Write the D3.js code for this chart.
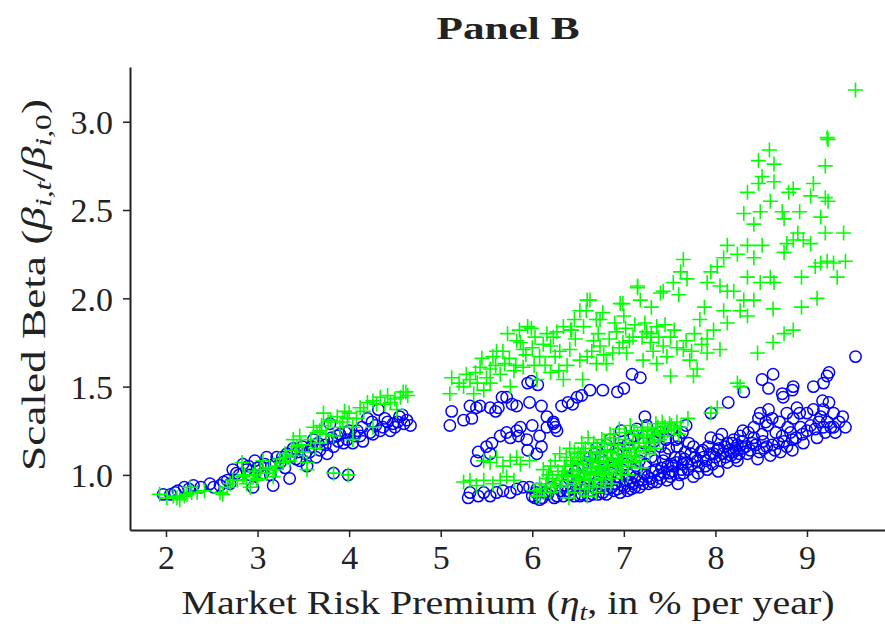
<!DOCTYPE html>
<html>
<head>
<meta charset="utf-8">
<script src="https://cdn.jsdelivr.net/npm/d3@7"></script>
<style>
  html, body { margin: 0; padding: 0; background: #fff; }
  svg { display: block; }
</style>
</head>
<body>
<svg id="chart" width="885" height="624"></svg>
<script>
// Axis tick values
const xTicks = [2, 3, 4, 5, 6, 7, 8, 9];
const yTicks = [1.0, 1.5, 2.0, 2.5, 3.0];

// Blue circles: [market risk premium, scaled beta]
const blueLeft = [[1.97,.89],[2.05,.89],[2.13,.91],[2.2,.93],[2.3,.94],[2.38,.93],[2.48,.95],[2.59,.94],[2.67,.97],[2.7,.95],[2.73,1.03],[2.8,1.0],[2.84,1.06],[2.88,1.03],[2.92,1.0],[2.95,.93],[2.97,1.08],[3.03,1.05],[3.06,1.01],[3.1,1.1],[3.14,1.0],[3.17,.94],[3.21,1.1],[3.25,1.07],[3.3,1.04],[3.32,1.12],[3.35,.98],[3.39,1.15],[3.42,1.09],[3.46,1.08],[3.49,1.16],[3.54,1.05],[3.57,1.13],[3.61,1.2],[3.64,1.1],[3.68,1.14],[3.72,1.2],[3.76,1.12],[3.79,1.29],[3.83,1.16],[3.83,1.01],[3.87,1.22],[3.9,1.23],[3.94,1.18],[3.98,1.2],[3.99,1.0],[4.0,1.25],[4.04,1.18],[4.09,1.25],[4.12,1.22],[4.15,1.19],[4.2,1.32],[4.23,1.24],[4.26,1.23],[4.29,1.28],[4.32,1.37],[4.34,1.25],[4.37,1.27],[4.42,1.3],[4.45,1.25],[4.48,1.29],[4.5,1.27],[4.55,1.33],[4.58,1.34],[4.63,1.31],[4.67,1.28],
  [2.1,.9],[2.25,.92],[2.52,.93],[2.63,.96],[2.77,1.01],[2.9,1.05],[3.0,1.04],[3.08,1.06],[3.18,1.06],[3.27,1.1],[3.37,1.11],[3.44,1.13],[3.52,1.12],[3.59,1.16],[3.66,1.18],[3.74,1.17],[3.81,1.21],[3.88,1.19],[3.96,1.24],[4.06,1.22],[4.14,1.27],[4.25,1.3],[4.39,1.32],[4.53,1.3],[4.6,1.29]];
const blueUpper = [[5.1,1.28],[5.12,1.36],[5.25,1.31],[5.32,1.39],[5.34,1.32],[5.39,1.38],[5.43,1.39],[5.54,1.38],[5.6,1.36],[5.63,1.38],[5.67,1.44],[5.72,1.44],[5.78,1.4],[5.83,1.39],[5.95,1.52],[5.99,1.53],[6.06,1.51],[5.97,1.41],[6.1,1.39],[6.16,1.33],[6.23,1.3],[6.25,1.27],[6.32,1.39],[6.39,1.41],[6.44,1.4],[6.49,1.44],[6.54,1.45],[6.63,1.48],[6.77,1.48],[6.93,1.47],[7.0,1.49],[7.09,1.57],[7.18,1.55],[7.23,1.33]];
const blueMid = [[5.39,1.08],[5.41,1.13],[5.5,1.16],[5.54,1.12],[5.56,1.18],[5.65,1.22],[5.72,1.24],[5.76,1.21],[5.83,1.25],[5.85,1.22],[5.87,1.27],[5.94,1.2],[5.95,1.14],[6.0,1.28],[6.05,1.12],[6.08,1.22],[6.1,1.16],[6.16,1.27],[6.23,1.29],[6.27,1.25]];
const blueFloor = [[5.3,.87],[5.32,.9],[5.41,.88],[5.47,.9],[5.54,.88],[5.61,.9],[5.68,.91],[5.76,.9],[5.83,.92],[5.9,.93],[5.97,.93],[6.05,.92],[6.08,.86]];
const blueDense = [[6.0,.88],[6.04,.9],[6.11,.87],[6.17,.89],[6.21,.93],[6.27,.88],[6.31,.91],[6.36,.94],[6.41,.89],[6.44,.92],[6.49,.96],[6.52,.88],[6.56,.91],[6.59,.94],[6.62,.98],[6.66,.89],[6.69,.92],[6.71,.96],[6.74,1.0],[6.77,.9],[6.79,.94],[6.82,.92],[6.84,.97],[6.86,1.01],[6.89,.91],[6.91,.95],[6.94,.99],[6.96,.9],[6.98,1.03],[7.01,.93],[7.03,.97],[7.06,1.0],[7.08,.92],[7.1,.95],[7.13,.99],[7.15,1.04],[7.17,.93],[7.2,.97],[7.22,1.01],[7.24,1.06],[7.27,.95],[7.29,.98],[7.31,1.02],[7.34,1.08],[7.36,.96],[7.38,1.0],[7.41,1.04],[7.43,1.08],[7.45,1.12],[7.47,.97],[7.49,1.01],[7.51,.99],[7.52,1.06],[7.54,1.05],[7.56,1.1],[7.58,1.16],[7.59,.95],[7.62,1.1],[7.63,1.03],[7.65,1.01],[7.67,1.13],[7.69,1.07],[7.71,1.18],[7.73,1.12],[7.76,1.16],[7.76,.99],[7.8,1.08],[7.81,1.01],[7.84,1.13],[7.87,1.1],[7.89,1.05],[7.91,1.03],[7.92,1.16],[7.95,1.21],[7.98,1.12],[8.02,1.14],[8.03,1.02],[8.03,1.2],[8.05,1.08],[8.07,1.23],[8.1,1.16],[8.13,1.07],[8.13,1.18],[8.17,1.11],[8.2,1.13],[8.22,1.1],[8.24,1.08],[8.24,1.17],[8.27,1.22],[8.3,1.15],[8.35,1.12],[8.36,1.24],[8.4,1.18],[8.42,1.21],[8.42,1.27],[8.46,1.09],[8.47,1.32],[8.49,1.35],[8.51,1.23],[8.53,1.15],[8.57,1.28],[8.58,1.37],[8.6,1.11],[8.62,1.17],[8.62,1.32],[8.66,1.24],[8.71,1.13],[8.75,1.19],[8.79,1.27],[8.84,1.14],[8.84,1.2],[8.85,1.32],[8.89,1.38],[8.92,1.35],[8.96,1.18],[8.95,1.23],[9.0,1.25],[9.0,1.35],[9.07,1.37],[9.09,1.26],[9.11,1.21],[9.15,1.33],[9.17,1.42],[9.18,1.27],[9.18,1.37],[9.22,1.3],[9.24,1.41],[9.26,1.27],[9.29,1.27],[9.29,1.35],[9.31,1.24],[9.39,1.33],[9.42,1.27],
  [6.55,1.05],[6.63,1.1],[6.7,1.15],[6.78,1.07],[6.85,1.2],[6.92,1.12],[6.97,1.25],[7.04,1.17],[7.11,1.22],[7.19,1.13],[7.25,1.28],[7.33,1.19],[7.39,1.24],[7.46,1.2],[7.53,1.26],[7.6,1.21],[7.68,1.28],[7.4,1.16],[7.3,1.1],[7.17,1.08],[7.02,1.06],[6.88,1.04],[6.75,1.09],
  [6.03,.87],[6.14,.9],[6.24,.87],[6.34,.88],[6.39,.91],[6.46,.88],[6.54,.89],[6.61,.88],[6.64,.91],[6.72,.89],[6.76,.93],[6.81,.89],[6.87,.93],[6.93,.92],[6.99,.94],[7.04,.91],[7.07,.96],[7.12,.93],[7.16,.97],[7.21,.95],[7.26,.99],[7.31,.96],[7.35,1.03],[7.4,.98],[7.44,1.01],[7.48,1.05],[7.53,1.02],[7.57,1.07],[7.61,1.0],[7.64,1.06],[7.66,1.09],[7.7,1.03],[7.74,1.06],[7.78,1.1],[7.82,1.05],[7.86,1.14],[7.9,1.08],[7.94,1.12],[7.97,1.06],[8.0,1.1],[8.04,1.15],[8.08,1.12],[8.11,1.1],[8.15,1.14],[8.18,1.18],[8.22,1.15],[8.26,1.12],[8.29,1.19],[8.33,1.16],[8.38,1.14],[8.44,1.17],[8.48,1.13],[8.52,1.19],[8.56,1.16],[8.65,1.14],[8.69,1.18],[8.73,1.22],[8.78,1.16],[8.82,1.24],[8.88,1.21],[8.93,1.27],[9.04,1.28],[9.13,1.3],[9.2,1.24],[9.35,1.3],[8.7,1.3],[8.78,1.35],[8.55,1.3],[8.3,1.25],[8.2,1.2],
  [6.68,1.12],[6.81,1.17],[6.95,1.15],[7.07,1.2],[7.14,1.26],[7.22,1.18],[7.36,1.22],[7.49,1.15],[7.57,1.2],[7.64,1.24],[6.6,1.07],[6.47,1.02],[6.4,.98]];
const blueRight = [[7.95,1.35],[8.14,1.41],[8.31,1.47],[8.51,1.54],[8.58,1.49],[8.63,1.57],[8.73,1.46],[8.74,1.44],[8.84,1.48],[8.85,1.5],[9.07,1.5],[9.18,1.52],[9.22,1.56],[9.24,1.58],[9.53,1.67]];

// Green pluses: [market risk premium, scaled beta]
const greenLeft = [[1.93,.89],[2.01,.87],[2.08,.88],[2.15,.86],[2.23,.89],[2.28,.9],[2.34,.9],[2.26,.93],[2.59,.9],[2.62,.89],[2.67,.93],[2.73,.97],[2.84,.99],[2.83,1.07],[2.88,.95],[2.92,.93],[2.95,1.0],[2.99,.97],[3.03,1.03],[3.06,1.08],[3.1,1.01],[3.17,.99],[3.21,1.05],[3.28,1.07],[3.32,1.1],[3.35,1.08],[3.39,1.2],[3.43,1.16],[3.46,1.22],[3.5,1.13],[3.54,1.03],[3.54,1.07],[3.61,1.27],[3.65,1.24],[3.68,1.25],[3.68,1.18],[3.72,1.35],[3.77,1.3],[3.83,1.22],[3.83,1.01],[3.87,1.33],[3.9,1.27],[3.98,1.32],[3.99,1.0],[4.0,1.35],[4.04,1.27],[4.04,1.2],[4.12,1.38],[4.2,1.41],[4.26,1.42],[4.26,1.27],[4.34,1.44],[4.39,1.4],[4.45,1.41],[4.52,1.37],[4.59,1.47],[4.64,1.45],
  [2.12,.87],[2.2,.88],[2.42,.91],[2.7,.95],[2.78,.97],[2.86,1.0],[2.97,1.02],[3.0,.98],[3.13,1.04],[3.19,1.03],[3.24,1.09],[3.3,1.12],[3.37,1.14],[3.41,1.11],[3.48,1.17],[3.58,1.2],[3.63,1.15],[3.7,1.28],[3.75,1.23],[3.8,1.31],[3.93,1.3],[3.95,1.36],[4.08,1.32],[4.16,1.36],[4.3,1.4],[4.42,1.45],[4.5,1.43],[4.56,1.44],[4.62,1.47]];
const greenBand = [[5.1,1.46],[5.12,1.55],[5.25,1.5],[5.32,1.54],[5.36,1.46],[5.38,1.58],[5.43,1.61],[5.47,1.48],[5.54,1.52],[5.54,1.6],[5.57,1.67],[5.61,1.7],[5.65,1.57],[5.7,1.63],[5.73,1.8],[5.76,1.5],[5.8,1.59],[5.83,1.76],[5.87,1.75],[5.9,1.61],[5.9,1.71],[5.95,1.84],[5.99,1.83],[6.03,1.78],[6.05,1.54],[6.08,1.67],[6.16,1.8],[6.2,1.73],[6.2,1.58],[6.23,1.78],[6.25,1.67],[6.29,1.59],[6.34,1.84],[6.34,1.54],[6.41,1.71],[6.42,1.82],[6.43,1.82],[6.46,1.88],[6.52,1.65],[6.52,1.93],[6.55,1.54],[6.59,1.93],[6.6,1.99],[6.6,1.67],[6.63,1.99],[6.67,1.76],[6.7,1.88],[6.7,1.63],[6.74,1.73],[6.74,1.88],[6.77,1.92],[6.81,1.63],[6.88,1.69],[6.92,1.81],[6.96,1.97],[6.99,1.75],[6.99,1.97],[7.03,1.69],
  [5.2,1.52],[5.28,1.57],[5.4,1.52],[5.45,1.66],[5.5,1.55],[5.6,1.62],[5.68,1.7],[5.75,1.66],[5.82,1.62],[5.86,1.82],[5.93,1.68],[6.0,1.72],[6.02,1.62],[6.12,1.74],[6.14,1.62],[6.27,1.81],[6.3,1.7],[6.38,1.62],[6.47,1.77],[6.56,1.84],[6.65,1.7],[6.72,1.8],[6.78,1.68],[6.84,1.77],[6.9,1.86],[6.95,1.72],[7.02,1.83],[7.06,1.76],[7.12,1.85],[7.2,1.78],[7.23,1.86],[7.3,1.8],[7.32,1.7],[7.38,1.78],[7.45,1.85],[7.55,1.82],[7.58,1.72],[7.68,1.76],[7.74,1.7],[7.85,1.74],[7.88,1.95],[7.6,2.02],[7.3,1.95],[7.0,1.9]];
const greenRight = [[7.1,1.78],[7.15,2.07],[7.15,2.06],[7.18,1.99],[7.21,1.65],[7.25,1.81],[7.29,1.75],[7.36,1.84],[7.36,1.63],[7.4,2.03],[7.43,2.04],[7.43,1.73],[7.47,1.67],[7.51,1.78],[7.51,1.56],[7.54,2.09],[7.62,2.15],[7.65,2.22],[7.65,1.71],[7.69,2.11],[7.72,1.65],[7.76,1.56],[7.77,1.8],[7.8,1.6],[7.83,1.88],[7.91,2.09],[7.91,1.77],[7.91,1.69],[7.95,2.15],[7.98,1.82],[8.02,2.18],[8.05,2.07],[8.05,1.71],[8.09,2.23],[8.09,1.93],[8.13,2.3],[8.13,2.04],[8.13,1.86],[8.2,2.04],[8.24,2.25],[8.24,1.52],[8.27,1.93],[8.31,2.48],[8.31,1.99],[8.35,2.6],[8.35,2.3],[8.35,2.12],[8.35,1.9],[8.42,2.42],[8.42,2.23],[8.42,1.99],[8.46,1.69],[8.47,2.78],[8.47,2.65],[8.49,2.49],[8.49,2.09],[8.51,2.69],[8.51,2.3],[8.59,2.84],[8.6,2.55],[8.6,2.12],[8.63,1.94],[8.63,1.75],[8.64,2.76],[8.64,2.66],[8.64,2.09],[8.73,2.49],[8.75,2.45],[8.75,2.26],[8.75,1.8],[8.78,2.31],[8.8,2.6],[8.85,2.62],[8.85,2.33],[8.85,1.82],[8.9,2.37],[8.92,2.49],[8.94,2.12],[8.94,1.95],[8.96,2.33],[9.04,2.58],[9.04,2.31],[9.07,2.65],[9.09,2.18],[9.11,2.0],[9.15,2.46],[9.15,2.2],[9.2,2.75],[9.2,2.57],[9.2,2.37],[9.22,2.91],[9.23,2.9],[9.22,2.21],[9.23,2.55],[9.29,2.2],[9.33,2.12],[9.4,2.37],[9.42,2.21],[9.53,3.18],
  [7.95,1.35],[8.02,1.38],[7.7,1.32],[8.27,1.5],[7.5,1.29],[7.62,1.27]];
const greenLow = [[5.25,.96],[5.32,.97],[5.39,.94],[5.47,.97],[5.57,.95],[5.65,.97],[5.72,.99],[5.8,.97],[5.47,1.08],[5.54,1.07],[5.61,1.1],[5.68,1.05],[5.76,1.08],[5.83,1.1],[5.87,1.06],[5.97,1.08],[6.08,.88]];
const greenDense = [[6.05,.88],[6.1,.92],[6.15,.95],[6.2,.9],[6.22,.98],[6.28,1.02],[6.3,.93],[6.32,.97],[6.35,1.05],[6.38,.99],[6.4,.87],[6.42,1.08],[6.45,1.0],[6.47,.95],[6.5,1.03],[6.5,1.12],[6.52,.92],[6.55,1.06],[6.57,.98],[6.58,1.15],[6.6,1.01],[6.6,.88],[6.62,.94],[6.63,1.09],[6.65,1.04],[6.67,1.18],[6.68,.97],[6.7,1.12],[6.7,.9],[6.72,1.02],[6.73,1.07],[6.75,.95],[6.76,1.2],[6.78,1.1],[6.8,1.0],[6.8,.93],[6.82,1.14],[6.83,1.05],[6.85,1.23],[6.87,.98],[6.88,1.09],[6.9,1.17],[6.92,1.03],[6.93,1.12],[6.95,1.26],[6.97,1.07],[6.98,1.0],[7.0,1.15],[7.02,1.2],[7.03,1.1],[7.05,1.05],[7.07,1.28],[7.1,1.18],[7.12,1.13],[7.15,1.23],[7.17,1.08],[7.2,1.27],[7.22,1.16],[7.25,1.21],[7.28,1.12],[7.3,1.25],[7.33,1.19],[7.35,1.29],[7.4,1.24],[7.45,1.27],[7.55,1.26],[7.6,1.23],
  [6.36,1.02],[6.44,1.06],[6.53,1.1],[6.64,1.0],[6.71,1.05],[6.79,1.03],[6.86,1.13],[6.94,1.08],[7.08,1.11],[6.56,1.13],[6.66,1.08],[6.48,.97],[6.26,.95],[6.18,1.0],[6.12,1.03],
  [6.25,1.08],[6.3,1.12],[6.33,1.0],[6.37,1.1],[6.39,.94],[6.41,1.15],[6.43,1.02],[6.46,1.13],[6.49,1.07],[6.51,.99],[6.54,1.18],[6.56,1.02],[6.59,1.06],[6.61,1.21],[6.62,.97],[6.64,1.13],[6.66,.93],[6.69,1.01],[6.71,1.16],[6.74,1.04],[6.74,1.13],[6.77,.98],[6.79,1.18],[6.81,1.08],[6.84,1.01],[6.86,.95],[6.89,1.21],[6.91,1.06],[6.94,1.17],[6.96,1.02],[6.99,1.11],[7.01,1.24],[7.04,1.0],[7.06,1.15],[7.09,1.07],[7.11,1.25],[7.14,1.1],[7.16,1.18],[7.19,1.04],[7.21,1.22],[7.24,1.14],[7.26,1.26],[7.29,1.18],[7.32,1.23],[7.34,1.15],[7.37,1.27],[7.39,1.2],[7.42,1.3],[7.44,1.22],[7.48,1.25],[7.52,1.28],[7.58,1.3],[6.16,.98],[6.2,1.05],[6.24,.93],[6.13,.9],[6.08,.95],[6.02,.91],[6.46,.9],[6.57,.92]];

const bluePoints = [].concat(blueLeft, blueUpper, blueMid, blueFloor, blueDense, blueRight);
const greenPoints = [].concat(greenLeft, greenBand, greenRight, greenLow, greenDense);

const FONT = '"Times New Roman", Tinos, "Liberation Serif", "Nimbus Roman", FreeSerif, serif';
const svg = d3.select("#chart");

const x = d3.scaleLinear().domain([1.607, 9.852]).range([130, 885]);
const y = d3.scaleLinear().domain([0.688, 3.31]).range([530, 67]);

// Markers: blue open circles, then green plus signs on top
const pts = svg.append("g");
pts.selectAll("circle.blue").data(bluePoints).join("circle")
  .attr("class", "blue")
  .attr("cx", d => x(d[0])).attr("cy", d => y(d[1])).attr("r", 5.7)
  .attr("fill", "none").attr("stroke", "#0000ff").attr("stroke-width", 1.5);

pts.selectAll("path.green").data(greenPoints).join("path")
  .attr("class", "green")
  .attr("transform", d => `translate(${x(d[0])},${y(d[1])})`)
  .attr("d", "M-7.5,0H7.5M0,-7.5V7.5")
  .attr("fill", "none").attr("stroke", "#00ff00").attr("stroke-width", 1.6);

// Axes
const xAxis = svg.append("g").attr("transform", "translate(0,530)")
  .call(d3.axisBottom(x).tickValues(xTicks).tickSize(7).tickSizeOuter(0).tickPadding(8).tickFormat(d3.format("d")));
const yAxis = svg.append("g").attr("transform", "translate(130,0)")
  .call(d3.axisLeft(y).tickValues(yTicks).tickSize(7).tickSizeOuter(0).tickPadding(10).tickFormat(d3.format(".1f")));

[xAxis, yAxis].forEach(g => {
  g.attr("font-family", null).attr("font-size", null);
  g.select(".domain").attr("stroke", "#222").attr("stroke-width", 2);
  g.selectAll(".tick line").attr("stroke", "#222").attr("stroke-width", 1.5);
  g.selectAll(".tick text").attr("fill", "#222")
    .style("font-family", FONT).style("font-size", "34px");
});
yAxis.selectAll(".tick text").attr("dy", "0.35em");

// Title
svg.append("text")
  .attr("x", 508).attr("y", 39)
  .attr("text-anchor", "middle")
  .style("font-family", FONT).style("font-size", "31px").style("font-weight", "bold")
  .attr("fill", "#222")
  .attr("textLength", 143).attr("lengthAdjust", "spacingAndGlyphs")
  .text("Panel B");

// X axis label
const xl = svg.append("text")
  .attr("x", 508).attr("y", 614)
  .attr("text-anchor", "middle")
  .style("font-family", FONT).style("font-size", "33px").attr("fill", "#222")
  .attr("textLength", 653).attr("lengthAdjust", "spacingAndGlyphs");
xl.append("tspan").text("Market Risk Premium (");
xl.append("tspan").style("font-style", "italic").text("η");
xl.append("tspan").style("font-style", "italic").style("font-size", "23px").attr("dy", 6).text("t");
xl.append("tspan").attr("dy", -6).text(", in % per year)");

// Y axis label
const yl = svg.append("text")
  .attr("transform", "translate(45,285) rotate(-90)")
  .attr("text-anchor", "middle")
  .style("font-family", FONT).style("font-size", "33px").attr("fill", "#222")
  .attr("textLength", 372).attr("lengthAdjust", "spacingAndGlyphs");
yl.append("tspan").text("Scaled Beta (");
yl.append("tspan").style("font-style", "italic").text("β");
yl.append("tspan").style("font-style", "italic").style("font-size", "23px").attr("dy", 6).text("i,t");
yl.append("tspan").attr("dy", -6).text("/");
yl.append("tspan").style("font-style", "italic").text("β");
yl.append("tspan").style("font-style", "italic").style("font-size", "23px").attr("dy", 6).text("i,");
yl.append("tspan").style("font-size", "23px").text("0");
yl.append("tspan").attr("dy", -6).text(")");
</script>
</body>
</html>
